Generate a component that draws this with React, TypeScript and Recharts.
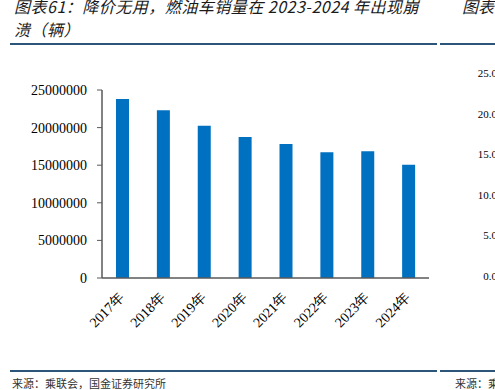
import React from 'react';
import { BarChart, Bar, XAxis, YAxis } from 'recharts';

const categories = ['2017年', '2018年', '2019年', '2020年', '2021年', '2022年', '2023年', '2024年'];
const sales = [23790000, 22320000, 20230000, 18760000, 17830000, 16720000, 16850000, 15070000];
const yTicks = [0, 5000000, 10000000, 15000000, 20000000, 25000000];
const rightTicks = ['25.0', '20.0', '15.0', '10.0', '5.0', '0.0'];

const titleLine1 = '图表61：降价无用，燃油车销量在 2023-2024 年出现崩';
const titleLine2 = '溃（辆）';
const rightTitle = '图表';
const source = '来源：乘联会，国金证券研究所';
const rightSource = '来源：乘';

const data = categories.map((c, i) => ({ name: c, value: sales[i] }));

const SERIF = '"Liberation Serif", "Times New Roman", serif';
const CJK = '"Noto Sans CJK SC", "Noto Sans", sans-serif';
const LINE = '#2b5679';

const XTick = (props: any) => {
  const { x, y, payload } = props;
  const ax = x - 1;
  return (
    <text
      x={ax}
      y={y}
      transform={`rotate(-45 ${ax} ${y})`}
      textAnchor="end"
      fontSize={14}
      fontFamily={SERIF}
      fill="#000"
      dy="0.35em"
    >
      {payload.value}
    </text>
  );
};

export default function App() {
  return (
    <div
      style={{
        position: 'absolute',
        left: 0,
        top: 0,
        width: 495,
        height: 390,
        overflow: 'hidden',
        background: '#fff',
      }}
    >
      <div
        style={{
          position: 'absolute',
          left: 14,
          top: -5,
          fontFamily: CJK,
          fontStyle: 'italic',
          fontSize: 16,
          lineHeight: '23px',
          color: '#1a1a1a',
          whiteSpace: 'nowrap',
          letterSpacing: 0.5,
        }}
      >
        {titleLine1}
        <br />
        {titleLine2}
      </div>
      <div
        style={{
          position: 'absolute',
          left: 462,
          top: -5,
          fontFamily: CJK,
          fontStyle: 'italic',
          fontSize: 16,
          lineHeight: '23px',
          color: '#1a1a1a',
          whiteSpace: 'nowrap',
        }}
      >
        {rightTitle}
      </div>
      <div style={{ position: 'absolute', left: 10, top: 43, width: 427, height: 2, background: LINE }} />
      <div style={{ position: 'absolute', left: 440, top: 43, width: 60, height: 2, background: LINE }} />
      <div style={{ position: 'absolute', left: 10, top: 370, width: 427, height: 2, background: LINE }} />
      <div style={{ position: 'absolute', left: 440, top: 370, width: 60, height: 2, background: LINE }} />
      <div
        style={{
          position: 'absolute',
          left: 12,
          top: 377,
          fontFamily: CJK,
          fontSize: 11,
          lineHeight: '13px',
          color: '#333',
          whiteSpace: 'nowrap',
        }}
      >
        {source}
      </div>
      <div
        style={{
          position: 'absolute',
          left: 455,
          top: 377,
          fontFamily: CJK,
          fontSize: 11,
          lineHeight: '13px',
          color: '#333',
          whiteSpace: 'nowrap',
        }}
      >
        {rightSource}
      </div>
      <svg style={{ position: 'absolute', left: 0, top: 0 }} width={495} height={390}>
        {rightTicks.map((t, i) => (
          <text
            key={t}
            x={497}
            y={73 + i * 40.6}
            textAnchor="end"
            dominantBaseline="central"
            fontSize={11}
            fontFamily={SERIF}
            fill="#000"
          >
            {t}
          </text>
        ))}
      </svg>
      <div style={{ position: 'absolute', left: 0, top: 0 }}>
        <BarChart
          width={495}
          height={390}
          data={data}
          margin={{ top: 90, right: 66, left: 0, bottom: 0 }}
        >
          <XAxis
            dataKey="name"
            height={112}
            tickLine={false}
            tickSize={0}
            tickMargin={17}
            axisLine={{ stroke: '#595959', strokeWidth: 1.5 }}
            tick={<XTick />}
            interval={0}
          />
          <YAxis
            width={102}
            domain={[0, 25000000]}
            ticks={yTicks}
            interval={0}
            tickSize={5}
            tickMargin={10}
            tickLine={{ stroke: '#595959' }}
            axisLine={{ stroke: '#595959', strokeWidth: 1.5 }}
            tick={{ fontSize: 14, fontFamily: SERIF, fill: '#000' }}
          />
          <Bar dataKey="value" fill="#0070C0" barSize={13} isAnimationActive={false} />
        </BarChart>
      </div>
    </div>
  );
}
